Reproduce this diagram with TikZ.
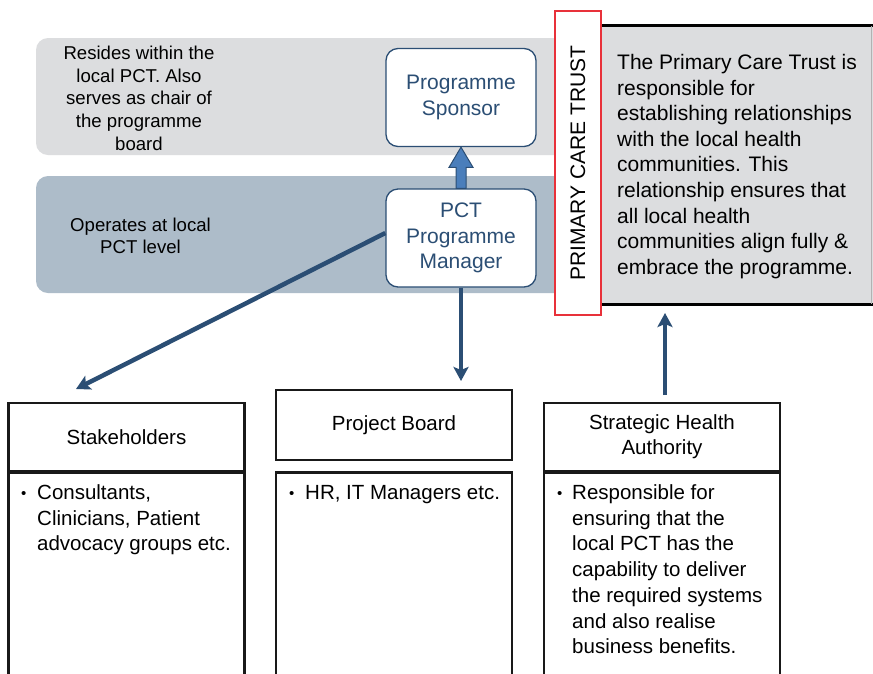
\documentclass[tikz,border=0pt]{standalone}
\usepackage{fontspec}
\setmainfont{Liberation Sans}
\usetikzlibrary{arrows.meta,calc}
\definecolor{bandgrey}{HTML}{DCDDDF}
\definecolor{bandblue}{HTML}{ADBCC9}
\definecolor{navy}{HTML}{2B4E74}
\definecolor{lightarrow}{HTML}{4A7EBB}
\definecolor{pctred}{HTML}{E8313A}
\newcommand{\bul}{\makebox[0pt][l]{\fontsize{15}{15}\selectfont\raisebox{1.5pt}{•}}}
\begin{document}
\begin{tikzpicture}[x=1pt,y=-1pt,
  band/.style={rectangle, rounded corners=12pt, inner sep=0, minimum width=564, minimum height=117},
  note/.style={anchor=base, inner sep=0, font=\fontsize{18.6}{22.6}\selectfont},
  rolebox/.style={rectangle, rounded corners=12pt, draw=navy, line width=1.3pt, fill=white,
    minimum width=150, minimum height=98, align=center, text=navy, inner sep=0,
    font=\fontsize{21}{25.7}\selectfont},
  headbox/.style={rectangle, draw=black!90, line width=2.5pt, fill=white, minimum width=236,
    minimum height=68, align=center, inner sep=0, font=\fontsize{20.5}{25}\selectfont},
  bodybox/.style={rectangle, draw=black!90, line width=2.5pt, fill=white, minimum width=236,
    minimum height=230, anchor=north, inner sep=0},
  bodytext/.style={anchor=base west, inner sep=0, font=\fontsize{20.5}{25.7}\selectfont},
  conn/.style={draw=navy, line width=4pt, -{Stealth[length=14pt,width=15pt,inset=3pt]}}]
\clip (0,0) rectangle (873,673);
\fill[white] (0,0) rectangle (873,673);

% bands
\node[band, fill=bandgrey] (bandA) at (318,96.5) {};
\node[band, fill=bandblue] (bandB) at (318,234.5) {};
\node[note] (noteA) at (139,59.7) {\begin{tabular}[t]{@{}c@{}}Resides within the\\local PCT. Also\\serves as chair of\\the programme\\board\end{tabular}};
\node[note] (noteB) at (140.5,231) {\begin{tabular}[t]{@{}c@{}}Operates at local\\PCT level\end{tabular}};

% grey description box
\node[fill=bandgrey, minimum width=272, minimum height=278, inner sep=0] (gbox) at (737,165) {};
\draw[line width=3pt] (gbox.north west) -- (gbox.north east);
\draw[line width=3pt] (gbox.south west) -- (gbox.south east);
\draw[gray!60, line width=0.8pt] ([xshift=-2pt]gbox.north east) -- ([xshift=-2pt]gbox.south east);
\node[anchor=base west, inner sep=0, font=\fontsize{21}{25.6}\selectfont] (gtext) at (617,69.5)
 {\begin{tabular}[t]{@{}l@{}}The Primary Care Trust is\\responsible for\\establishing relationships\\with the local health\\communities. This\\relationship ensures that\\all local health\\communities align fully \&\\embrace the programme.\end{tabular}};

% PCT red box
\node[draw=pctred, line width=2.5pt, fill=white, rotate=90, minimum width=304, minimum height=46,
  inner sep=0, font=\fontsize{21}{25}\selectfont] (pct) at (578,163) {PRIMARY CARE TRUST};

% role boxes
\node[rolebox] (spon) at (461,97.5) {Programme\\Sponsor};
\node[rolebox] (mgr) at (461,238) {PCT\\Programme\\Manager};

% up arrow (block)
\filldraw[fill=lightarrow, draw=navy, line width=1pt, line join=miter]
  ($(mgr.north)+(-5,0)$) -- ++(0,-21) -- ++(-7,0) -- (spon.south)
  -- ($(mgr.north)+(12,-21)$) -- ++(-7,0) -- ($(mgr.north)+(5,0)$) -- cycle;

% bottom boxes
\node[headbox] (stkH) at (126.5,437) {Stakeholders};
\node[bodybox] (stkB) at (126.5,471) {};
\node[headbox, minimum height=70] (pbH) at (394,425) {Project Board};
\node[bodybox] (pbB) at (394,471) {};
\node[headbox] (shaH) at (662,437) {Strategic Health\\Authority};
\node[bodybox] (shaB) at (662,471) {};

\node[bodytext] (stkT) at (21,499.5) {\begin{tabular}[t]{@{}p{16pt}@{}l@{}}\bul & Consultants,\\ & Clinicians, Patient\\ & advocacy groups etc.\end{tabular}};
\node[bodytext] (pbT) at (289,499.5) {\begin{tabular}[t]{@{}p{16pt}@{}l@{}}\bul & HR, IT Managers etc.\end{tabular}};
\node[bodytext] (shaT) at (557,499.5) {\begin{tabular}[t]{@{}p{15pt}@{}l@{}}\bul & Responsible for\\ & ensuring that the\\ & local PCT has the\\ & capability to deliver\\ & the required systems\\ & and also realise\\ & business benefits.\end{tabular}};

% connectors
\coordinate (pbTip) at (461,381);
\coordinate (stkTip) at (76,389);
\coordinate (shaStart) at (665,395);
\coordinate (shaTip) at (665,313);
\draw[conn] (mgr.south) -- (pbTip);
\draw[conn, line width=4.5pt] ($(mgr.west)+(0,-5)$) -- (stkTip);
\draw[conn, line width=3.5pt] (shaStart) -- (shaTip);
\end{tikzpicture}
\end{document}
